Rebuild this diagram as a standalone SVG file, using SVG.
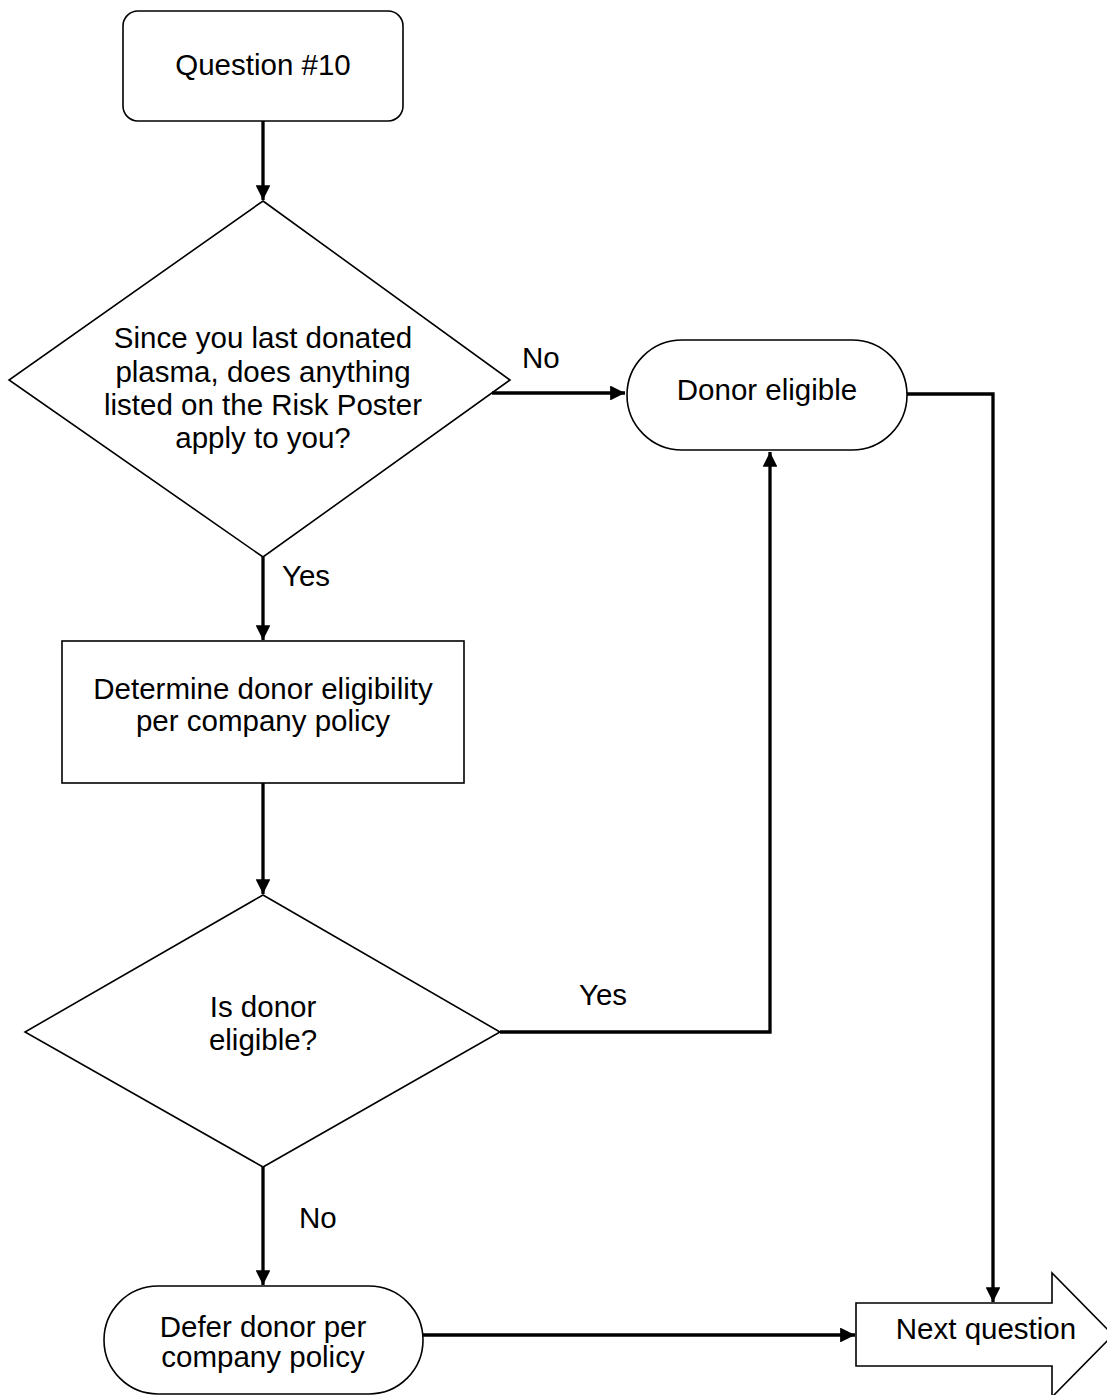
<svg xmlns="http://www.w3.org/2000/svg" width="1107" height="1395" viewBox="0 0 1107 1395">
<style>
.s{fill:#fff;stroke:#000;stroke-width:1.6}
.c{fill:none;stroke:#000;stroke-width:3.3}
.t{font-family:"Liberation Sans",Arial,sans-serif;font-size:29.5px;fill:#000;text-anchor:middle}
.l{font-family:"Liberation Sans",Arial,sans-serif;font-size:29.5px;fill:#000}
</style>
<defs>
<marker id="a" viewBox="0 0 10 10" refX="10" refY="5" markerWidth="4.5" markerHeight="4.5" markerUnits="strokeWidth" orient="auto">
<path d="M0,0 L10,5 L0,10 z" fill="#000"/>
</marker>
</defs>
<rect width="1107" height="1395" fill="#fff"/>
<g id="n1"><rect class="s" x="123" y="11" width="280" height="110" rx="15"/><text class="t" x="263" y="75">Question #10</text></g>
<g id="n2"><polygon class="s" points="263,201 510,380 263,557 9,380"/>
<text class="t" x="263" y="348">Since you last donated</text>
<text class="t" x="263" y="382">plasma, does anything</text>
<text class="t" x="263" y="415">listed on the Risk Poster</text>
<text class="t" x="263" y="448">apply to you?</text></g>
<g id="n3"><rect class="s" x="627" y="340" width="280" height="110" rx="55"/><text class="t" x="767" y="400">Donor eligible</text></g>
<g id="n4"><rect class="s" x="62" y="641" width="402" height="142"/>
<text class="t" x="263" y="699">Determine donor eligibility</text>
<text class="t" x="263" y="731">per company policy</text></g>
<g id="n5"><polygon class="s" points="263,895 500,1032 263,1167 25,1032"/>
<text class="t" x="263" y="1017">Is donor</text>
<text class="t" x="263" y="1050">eligible?</text></g>
<g id="n6"><rect class="s" x="104" y="1286" width="319" height="108" rx="54"/>
<text class="t" x="263" y="1337">Defer donor per</text>
<text class="t" x="263" y="1367">company policy</text></g>
<g id="n7"><polygon class="s" points="856,1303 1052,1303 1052,1273 1113,1335 1052,1397 1052,1366 856,1366"/>
<text class="t" x="986" y="1339">Next question</text></g>
<g id="connectors">
<path class="c" d="M263,121 V200" marker-end="url(#a)"/>
<path class="c" d="M492,393 H625" marker-end="url(#a)"/>
<path class="c" d="M907,394 H993 V1302" marker-end="url(#a)"/>
<path class="c" d="M263,557 V640" marker-end="url(#a)"/>
<path class="c" d="M263,783 V894" marker-end="url(#a)"/>
<path class="c" d="M500,1032 H770 V452" marker-end="url(#a)"/>
<path class="c" d="M263,1167 V1285" marker-end="url(#a)"/>
<path class="c" d="M423,1335 H855" marker-end="url(#a)"/>
</g>
<g id="labels">
<text class="l" x="522" y="368">No</text>
<text class="l" x="282" y="586">Yes</text>
<text class="l" x="579" y="1005">Yes</text>
<text class="l" x="299" y="1228">No</text>
</g>
</svg>
